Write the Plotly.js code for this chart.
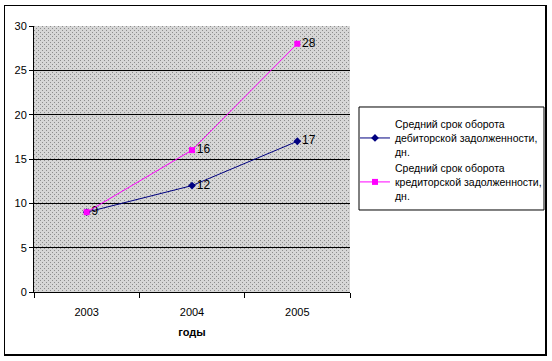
<!DOCTYPE html>
<html>
<head>
<meta charset="utf-8">
<script src="https://cdn.plot.ly/plotly-3.0.1.min.js"></script>
<style>
html,body{margin:0;padding:0;background:#fff;}
#wrap{position:relative;width:552px;height:361px;}
#chart{width:552px;height:361px;}
#frame{position:absolute;left:4px;top:5px;width:540px;height:348px;border-left:1px solid #000;border-top:1px solid #000;border-right:2px solid #000;border-bottom:2px solid #000;pointer-events:none;}
</style>
</head>
<body>
<div id="wrap"><div id="chart"></div><div id="frame"></div></div>
<script>
const years = ['2003', '2004', '2005'];
const debtorDays = [9, 12, 17];
const creditorDays = [9, 16, 28];
const debtorLabels = ['9', '12', '17'];
const creditorLabels = ['', '16', '28'];
const seriesNames = [
  'Средний срок оборота<br>дебиторской задолженности,<br>дн.',
  'Средний срок оборота<br>кредиторской задолженности,<br>дн.'
];
const xTitle = 'годы';

// dotted background pattern
const c = document.createElement('canvas');
c.width = 316; c.height = 266;
const ctx = c.getContext('2d');
ctx.fillStyle = '#d6d6d6';
ctx.fillRect(0, 0, c.width, c.height);
ctx.fillStyle = '#8c8c8c';
for (let y = 0; y < c.height; y += 2) {
  for (let x = 0; x < c.width; x += 2) {
    if ((x + y) % 4 === 0) ctx.fillRect(x, y, 1, 1);
  }
}
const bg = c.toDataURL();

const font = 'Liberation Sans, Arial, sans-serif';
const traces = [
  {
    x: years, y: debtorDays, name: seriesNames[0],
    mode: 'lines+markers+text', text: debtorLabels, textposition: 'middle right',
    textfont: {family: font, size: 12, color: '#000'},
    line: {color: '#000080', width: 1},
    marker: {symbol: 'diamond', size: 6, color: '#000080'},
    cliponaxis: false
  },
  {
    x: years, y: creditorDays, name: seriesNames[1],
    mode: 'lines+markers+text', text: creditorLabels, textposition: 'middle right',
    textfont: {family: font, size: 12, color: '#000'},
    line: {color: '#ff00ff', width: 1},
    marker: {symbol: 'square', size: 6, color: '#ff00ff'},
    cliponaxis: false
  }
];

const layout = {
  width: 552, height: 361,
  margin: {l: 34, t: 26, r: 202, b: 69, autoexpand: false},
  paper_bgcolor: '#fff',
  plot_bgcolor: '#c4c4c4',
  font: {family: font, size: 11, color: '#000'},
  showlegend: true,
  images: [{source: bg, xref: 'paper', yref: 'paper', x: 0, y: 1, sizex: 1, sizey: 1,
            sizing: 'stretch', layer: 'below', xanchor: 'left', yanchor: 'top'}],
  shapes: [{type: 'rect', xref: 'paper', yref: 'paper', x0: 1.0285, x1: 1.6139, y0: 0.3083, y1: 0.6955,
            line: {color: '#000', width: 1}, fillcolor: '#fff', layer: 'above'}],
  xaxis: {
    type: 'category', range: [-0.5, 2.5], tickson: 'boundaries',
    ticks: 'outside', ticklen: 5, tickcolor: '#000', tickwidth: 1,
    showline: true, linecolor: '#000', linewidth: 1,
    showgrid: false, zeroline: false, ticklabelstandoff: 10,
    tickfont: {family: font, size: 11, color: '#000'},
    title: {text: xTitle, font: {family: font, size: 11, color: '#000', weight: 'bold'}, standoff: 11}
  },
  yaxis: {
    range: [0, 30], dtick: 5, tick0: 0,
    ticks: 'outside', ticklen: 4, tickcolor: '#000', tickwidth: 1,
    showline: true, linecolor: '#000', linewidth: 1,
    showgrid: true, gridcolor: '#000', gridwidth: 1, zeroline: false,
    tickfont: {family: font, size: 11, color: '#000'}
  },
  legend: {
    x: 1.0158, y: 0.6805, xanchor: 'left', yanchor: 'top',
    bgcolor: 'rgba(0,0,0,0)', borderwidth: 0,
    font: {family: font, size: 10.5, color: '#000'},
    itemwidth: 30, tracegroupgap: 9, traceorder: 'normal'
  }
};

Plotly.newPlot('chart', traces, layout, {displayModeBar: false, staticPlot: true});
</script>
</body>
</html>
